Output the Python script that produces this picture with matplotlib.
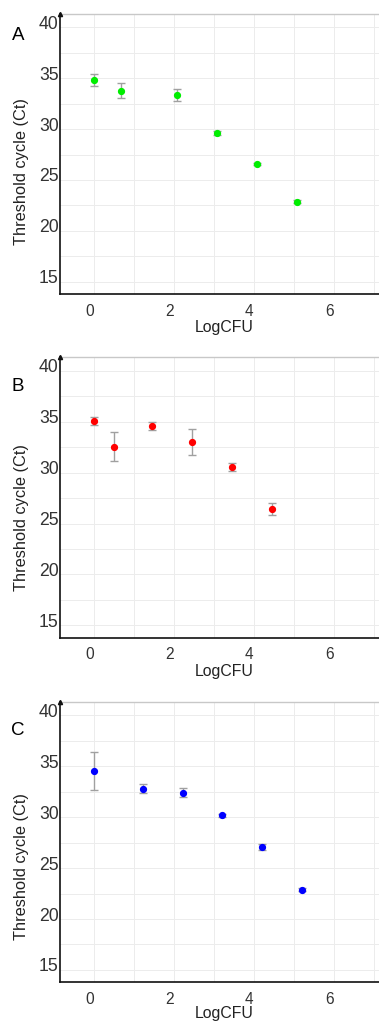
import matplotlib
matplotlib.use("Agg")
import matplotlib.pyplot as plt
import matplotlib.transforms as mtransforms
import numpy as np

# ---- data ----
panel_labels = ["A", "B", "C"]
colors = ["#00ee00", "#ff0000", "#0000ff"]

a_x = [0.0, 0.68, 2.06, 3.07, 4.07, 5.06]
a_y = [34.86, 33.78, 33.36, 29.65, 26.57, 22.87]
a_err = [0.57, 0.72, 0.60, 0.20, 0.12, 0.17]

b_x = [0.0, 0.49, 1.45, 2.44, 3.44, 4.44]
b_y = [35.06, 32.53, 34.54, 32.96, 30.54, 26.44]
b_err = [0.42, 1.42, 0.40, 1.28, 0.41, 0.56]

c_x = [0.0, 1.23, 2.23, 3.20, 4.20, 5.19]
c_y = [34.54, 32.77, 32.38, 30.18, 27.04, 22.88]
c_err = [1.88, 0.43, 0.45, 0.15, 0.28, 0.15]

x_major = [0, 2, 4, 6]
x_minor = [1, 3, 5, 7]
y_major = [15, 20, 25, 30, 35, 40]
y_minor = [17.5, 22.5, 27.5, 32.5, 37.5]

xs = [a_x, b_x, c_x]
ys = [a_y, b_y, c_y]
errs = [a_err, b_err, c_err]

W, H = 379, 1022
fig = plt.figure(figsize=(W / 100, H / 100), dpi=100)
plt.rcParams['font.family'] = ['Liberation Sans', 'DejaVu Sans']

# axes pixel frames: (top, bottom)
frames = [(14, 294), (357.3, 637.7), (701.7, 982.3)]
ylab_y = [171.5, 518, 867]
xlab_y = [327.3, 671.7, 1013]
letter_y = [35.3, 386.7, 730]

left_px = 60
right_px = 386.6
xlim = (-0.857, 7.31)
ylim = (13.79, 41.32)

for i in range(3):
    top, bot = frames[i]
    ax = fig.add_axes([left_px / W, 1 - bot / H, (right_px - left_px) / W, (bot - top) / H])
    ax.set_xlim(*xlim)
    ax.set_ylim(*ylim)
    ax.set_xticks(x_major)
    ax.set_xticks(x_minor, minor=True)
    ax.set_yticks(y_major)
    ax.set_yticks(y_minor, minor=True)
    ax.grid(True, which='both', color='#ececec', lw=0.7)
    ax.set_axisbelow(True)
    ax.tick_params(which='both', length=0)
    ax.tick_params(axis='y', pad=1, labelsize=12.7, labelcolor='#333333')
    ax.tick_params(axis='x', pad=7, labelsize=11.2, labelcolor='#333333')
    for s in ['left', 'bottom']:
        ax.spines[s].set_color('#111111')
        ax.spines[s].set_linewidth(1.2)
    ax.spines['top'].set_color('#c8c8c8')
    ax.spines['top'].set_linewidth(1.0)
    ax.spines['right'].set_visible(False)

    ax.errorbar(xs[i], ys[i], yerr=errs[i], fmt='none', ecolor='#a0a0a0',
                elinewidth=1.0, capsize=3, capthick=1.0, zorder=2)
    ax.plot(xs[i], ys[i], 'o', color=colors[i], ms=4.2, zorder=3)

    # arrowhead on top of y axis
    ax.plot([0], [1], marker='^', ms=3, color='#111111', transform=ax.transAxes,
            clip_on=False, zorder=5)

    # shift tick labels like in reference
    off_y = mtransforms.ScaledTranslation(0, 5 / 100, fig.dpi_scale_trans)
    for lab in ax.get_yticklabels():
        lab.set_transform(lab.get_transform() + off_y)
    off_x = mtransforms.ScaledTranslation(-5 / 100, 0, fig.dpi_scale_trans)
    for lab in ax.get_xticklabels():
        lab.set_transform(lab.get_transform() + off_x)

    fig.text(21.7 / W, 1 - ylab_y[i] / H, "Threshold cycle (Ct)", rotation=90,
             ha='center', va='center', fontsize=11.8, color='#222222')
    fig.text(224 / W, 1 - xlab_y[i] / H, "LogCFU", ha='center', va='center',
             fontsize=11.4, color='#222222')
    fig.text(18 / W, 1 - letter_y[i] / H, panel_labels[i], ha='center', va='center',
             fontsize=13.5, color='black')

fig.savefig("out.png", dpi=100)
